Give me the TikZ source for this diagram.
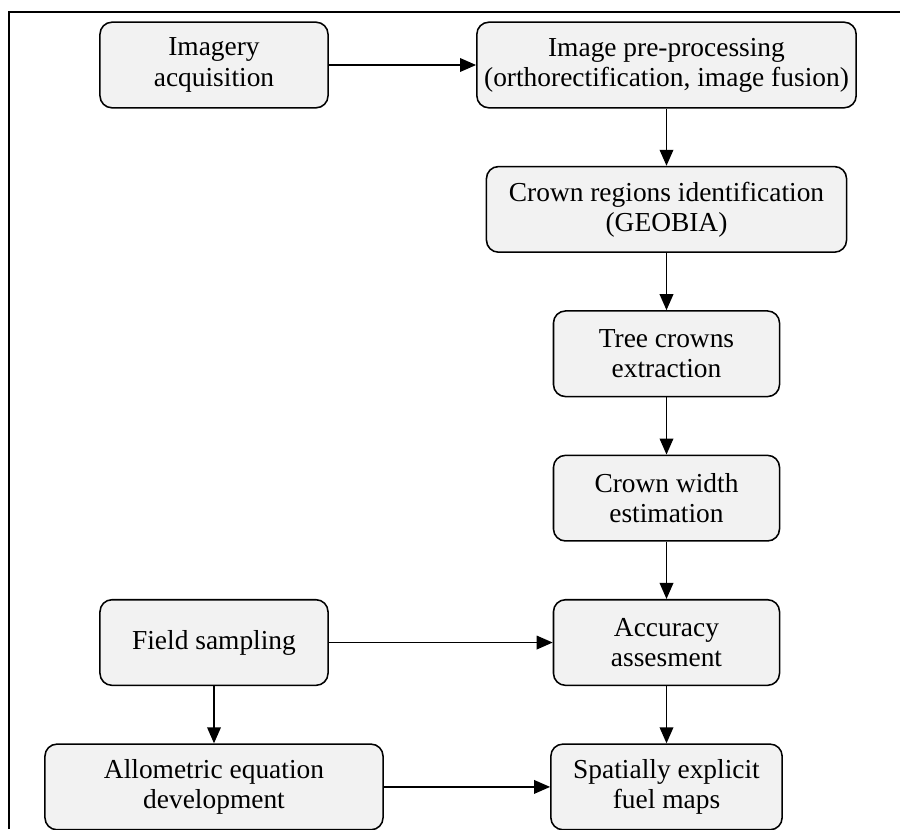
\documentclass[tikz,border=0pt]{standalone}
\usepackage{fontspec}
\setmainfont{Liberation Serif}
\usepackage{tikz}
\usetikzlibrary{positioning,arrows.meta}

\definecolor{boxgray}{HTML}{F2F2F2}

\tikzset{
  stepbox/.style={draw,fill=boxgray,rounded corners=0.3cm,line width=1.1pt,
    align=center,inner sep=0pt,minimum height=2.14cm,
    font=\fontsize{19.5}{21.5}\selectfont},
  flow/.style={-{Triangle[length=0.4cm,width=0.34cm]},line width=1.1pt}
}

\begin{document}
\begin{tikzpicture}[x=0.025cm,y=-0.025cm,node distance=1.43cm]

\useasboundingbox (0,0) rectangle (900,829);

%---------------------------------
% MARCO
%---------------------------------
\draw[line width=1.1pt] (9,829) -- (9,12) -- (900,12);

%---------------------------------
% FILA SUPERIOR
%---------------------------------
\node[stepbox,minimum width=5.7cm] (acq) at (214,65)
{Imagery\\ acquisition};

\node[stepbox,minimum width=9.48cm] (pre) at (666.5,65)
{Image pre-processing\\ (orthorectification, image fusion)};

%---------------------------------
% COLUMNA DERECHA
%---------------------------------
\node[stepbox,minimum width=9cm,below=of pre] (regions)
{Crown regions identification\\ (GEOBIA)};

\node[stepbox,minimum width=5.65cm,below=of regions] (trees)
{Tree crowns\\ extraction};

\node[stepbox,minimum width=5.65cm,below=of trees] (width)
{Crown width\\ estimation};

\node[stepbox,minimum width=5.65cm,below=of width] (acc)
{Accuracy\\ assesment};

\node[stepbox,minimum width=5.78cm,below=of acc] (maps)
{Spatially explicit\\ fuel maps};

%---------------------------------
% COLUMNA IZQUIERDA
%---------------------------------
\node[stepbox,minimum width=5.7cm] (field) at (acq |- acc)
{Field sampling};

\node[stepbox,minimum width=8.45cm,below=of field] (allo)
{Allometric equation\\ development};

% conectores
\draw[flow] (acq) -- (pre);
\draw[flow] (pre) -- (regions);
\draw[flow] (regions) -- (trees);
\draw[flow] (trees) -- (width);
\draw[flow] (width) -- (acc);
\draw[flow] (acc) -- (maps);
\draw[flow] (field) -- (acc);
\draw[flow] (field) -- (allo);
\draw[flow] (allo) -- (maps);

\end{tikzpicture}
\end{document}
